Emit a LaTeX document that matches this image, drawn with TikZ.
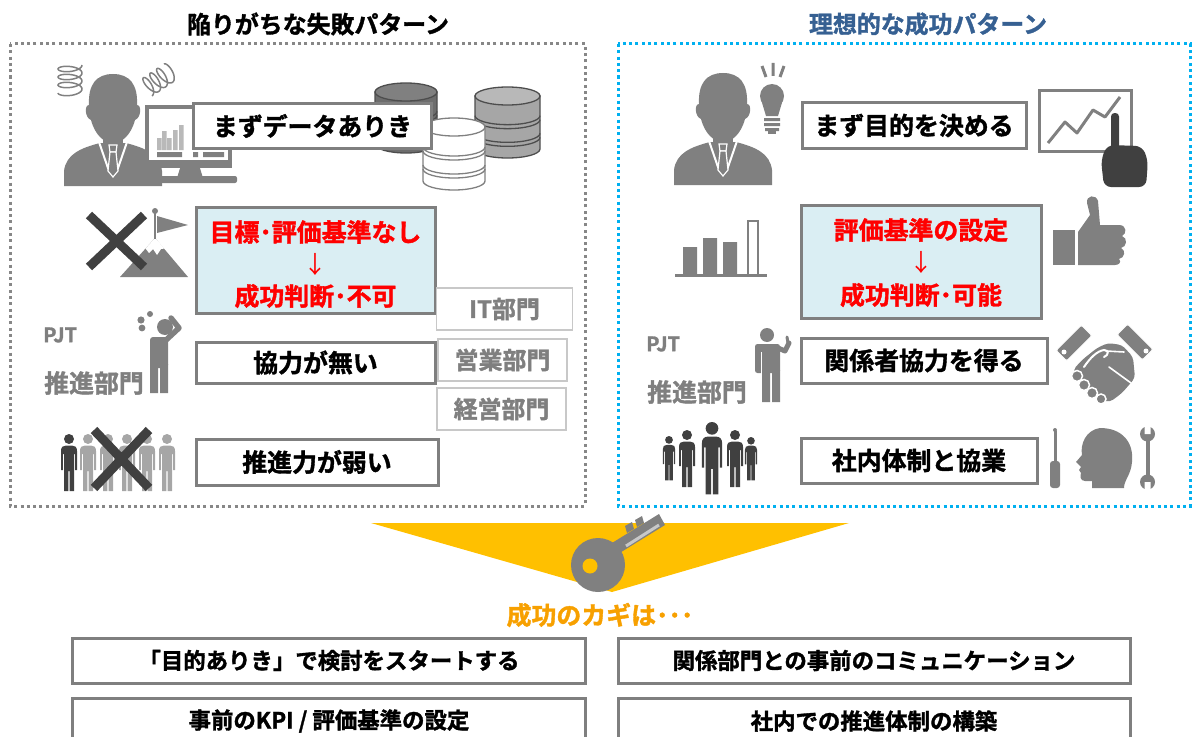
\documentclass[tikz,border=0pt]{standalone}
\usepackage{fontspec}
\setmainfont{Noto Sans CJK JP}[BoldFont={Noto Sans CJK JP Bold}, BoldFeatures={FakeBold=1.5}]
\usetikzlibrary{calc}

\definecolor{icongray}{RGB}{128,128,128}
\definecolor{handdark}{RGB}{64,64,64}
\definecolor{crowdlight}{RGB}{166,166,166}
\definecolor{boxline}{RGB}{127,127,127}
\definecolor{frameline}{RGB}{135,135,135}
\definecolor{deptline}{RGB}{200,200,200}
\definecolor{bluefill}{RGB}{218,238,243}
\definecolor{skyblue}{RGB}{0,176,240}
\definecolor{titleblue}{RGB}{54,96,146}
\definecolor{keyyellow}{RGB}{255,192,0}
\definecolor{keyorange}{RGB}{247,160,0}
\definecolor{barlight}{RGB}{185,185,185}
\definecolor{keylight}{RGB}{200,200,200}

% office worker bust, origin at the top centre of the head
\newcommand\bustfig[2]{%
\begin{scope}[shift={(#1,#2)}]
  \fill[icongray] (-10,56) rectangle (10,72);
  \fill[icongray] (0,0) .. controls (17,0) and (25,11) .. (24,31)
    .. controls (29,31) and (28,44) .. (22,46)
    .. controls (18,61) and (9,69) .. (0,69)
    .. controls (-9,69) and (-18,61) .. (-22,46)
    .. controls (-28,44) and (-29,31) .. (-24,31)
    .. controls (-25,11) and (-17,0) .. (0,0) -- cycle;
  \fill[icongray] (-49,112) -- (-49,97) .. controls (-47,80) and (-32,74) .. (-13,69)
    -- (13,69) .. controls (32,74) and (47,80) .. (49,97) -- (49,112) -- cycle;
  \draw[white, line width=2bp] (-14,68) -- (-4,97) (14,68) -- (4,97);
  \filldraw[fill=icongray, draw=white, line width=1.2bp] (-4,71) -- (4,71) -- (3,78) -- (-3,78) -- cycle;
  \filldraw[fill=icongray, draw=white, line width=1.2bp] (-3,78) -- (3,78) -- (5,97) -- (0,103) -- (-5,97) -- cycle;
\end{scope}}

% standing person, origin at the top of the head, 57 units tall
\newcommand\manfig[4]{%
\begin{scope}[shift={(#1,#2)}, scale=#3]
  \fill[#4] (0,5) circle[radius=5];
  \fill[#4] (-8,36) -- (-8,17) .. controls (-8,13) and (-6,11.5) .. (-3,11.5) -- (3,11.5)
    .. controls (6,11.5) and (8,13) .. (8,17) -- (8,36) -- (6.2,36) -- (6.2,20) -- (5,20)
    -- (5,57) -- (0.6,57) -- (0.6,37) -- (-0.6,37) -- (-0.6,57) -- (-5,57) -- (-5,20)
    -- (-6.2,20) -- (-6.2,36) -- cycle;
\end{scope}}

% database cylinder: left, right, top, bottom, body fill, lid fill, line colour
\newcommand\dbcyl[7]{%
  \pgfmathsetmacro\cxa{(#1+#2)/2}\pgfmathsetmacro\rxa{(#2-#1)/2}%
  \pgfmathsetmacro\tca{#3+9}\pgfmathsetmacro\bca{#4-9}%
  \pgfmathsetmacro\sa{\tca+(\bca-\tca)/3+2}\pgfmathsetmacro\sb{\tca+2*(\bca-\tca)/3+2}%
  \filldraw[fill=#5, draw=#7, line width=1.3bp] (#1,\tca) -- (#1,\bca)
    arc[start angle=180, end angle=0, x radius=\rxa, y radius=9] -- (#2,\tca) -- cycle;
  \filldraw[fill=#6, draw=#7, line width=1.3bp] (\cxa,\tca) ellipse[x radius=\rxa, y radius=9];
  \foreach \yy in {\sa,\sb}{%
    \draw[#7, line width=1.3bp] (#1,\yy) arc[start angle=180, end angle=0, x radius=\rxa, y radius=9];
    \draw[#7, line width=1.3bp] (#1,{\yy+4}) arc[start angle=180, end angle=0, x radius=\rxa, y radius=9];}
}

\tikzset{
  jpbox/.style={draw=boxline, line width=3bp, fill=white, inner sep=0pt,
    font=\bfseries\fontsize{25}{30}\selectfont},
  goalbox/.style={jpbox, fill=bluefill},
  redtxt/.style={text=red, inner sep=0pt, font=\bfseries\fontsize{25}{30}\selectfont},
  redarrow/.style={text=red, inner sep=0pt, font=\fontsize{24}{28}\selectfont},
  deptbox/.style={draw=deptline, line width=1.8bp, fill=white, text=boxline, inner sep=0pt,
    font=\bfseries\fontsize{24}{28}\selectfont},
  keybox/.style={jpbox, font=\bfseries\fontsize{22.5}{26}\selectfont},
  graylabel/.style={text=boxline, inner sep=0pt, font=\bfseries\fontsize{25}{30}\selectfont},
  pjtlabel/.style={text=boxline, inner sep=0pt, anchor=west, font=\bfseries\fontsize{20}{24}\selectfont},
  titletxt/.style={inner sep=0pt, font=\bfseries\fontsize{24}{28}\selectfont},
  frameL/.style={draw=frameline, line width=3bp, dash pattern=on 3bp off 3.3bp},
  frameR/.style={draw=skyblue, line width=3bp, dash pattern=on 3bp off 3.3bp},
  crossline/.style={draw=handdark, line width=9bp},
  cuff/.style={fill=icongray, draw=white, line width=1bp, rounded corners=2},
}

\begin{document}
\begin{tikzpicture}[x=1bp, y=-1bp]
\useasboundingbox (0,0) rectangle (1193,737);
\clip (0,0) rectangle (1193,737);

% ---------- headings and frames ----------
\node[titletxt] (ttlL) at (318,24) {陥りがちな失敗パターン};
\node[titletxt, text=titleblue] (ttlR) at (928,24) {理想的な成功パターン};
\draw[frameL] (10,44) rectangle (585,506);
\draw[frameR] (618,44) rectangle (1190,506);

% ---------- left: data first ----------
\bustfig{113}{74}
\draw[icongray, line width=1.5bp] plot[domain=0:1260, samples=140, smooth]
  ({70+12*cos(\x)}, {65+\x/1260*28+4.5*sin(\x)});
\draw[icongray, line width=1.5bp] plot[domain=0:1260, samples=140, smooth]
  ({146+\x/1260*24+10*cos(\x)*0.604+4.5*sin(\x)*0.797},
   {88-\x/1260*16+10*cos(\x)*0.797-4.5*sin(\x)*0.604});
% monitor
\fill[icongray] (181,165) -- (199,165) -- (203,178) -- (177,178) -- cycle;
\fill[icongray, rounded corners=2] (160,176) rectangle (237,183);
\fill[icongray] (145,105) rectangle (232,168);
\fill[white] (149,109) rectangle (228,160);
\fill[barlight] (157,138) rectangle (161.5,150) (162,131) rectangle (166.5,150)
  (167,138) rectangle (171.5,150) (173,130) rectangle (177.5,150) (179,125) rectangle (183.5,150);
\fill[icongray] (157,152) rectangle (182,157) (193,152) rectangle (198,157) (203,152) rectangle (224,157);
% databases
\dbcyl{375}{437}{83}{153}{icongray!85!black}{icongray}{icongray!60!black}
\dbcyl{475}{540}{87}{158}{crowdlight}{crowdlight!80!white}{icongray!60!black}
\dbcyl{423}{485}{118}{190}{white}{white}{icongray}
\node[jpbox, minimum width=238bp, minimum height=44bp] (dataL) at (312.5,126) {まずデータありき};

% ---------- left: no goals ----------
\fill[icongray] (120,277) -- (155,238) -- (188,277) -- cycle;
\fill[white] (155,238) -- (145.5,248.5) -- (149,253) -- (153,249) -- (157,255) -- (161,249) -- (164.5,248.5) -- cycle;
\draw[icongray, line width=2bp] (155,239) -- (155,212);
\fill[icongray] (155,211) circle[radius=3];
\fill[icongray] (157,216) -- (188,225) -- (157,233) -- cycle;
\draw[crossline] (89,215) -- (144,267) (144,215) -- (89,267);
\node[goalbox, minimum width=239bp, minimum height=106bp] (goalL) at (315.5,260) {};
\node[redtxt] (goalLa) at (315.5,232) {目標･評価基準なし};
\node[redarrow] (goalLb) at (315.5,264) {↓};
\node[redtxt] (goalLc) at (315.5,296) {成功判断･不可};

% ---------- left: no cooperation ----------
\node[pjtlabel] (pjtL) at (43,335) {PJT};
\node[graylabel] (deptL) at (94,383) {推進部門};
\fill[icongray] (165,327) circle[radius=8];
\fill[icongray, rounded corners=3] (150,337) rectangle (168,368);
\fill[icongray] (150,364) rectangle (158,393) (160,364) rectangle (168,393);
\draw[icongray, line width=5.5bp, line cap=round, line join=round] (165,341) -- (179,328) -- (171,318);
\fill[icongray] (141,320) circle[radius=3.6] (150,314) circle[radius=3] (142,328) circle[radius=3.4];
\node[jpbox, minimum width=239bp, minimum height=41bp] (coopL) at (315.5,362.5) {協力が無い};
\node[deptbox, minimum width=136bp, minimum height=42bp] (itD) at (504.5,309) {IT部門};
\node[deptbox, minimum width=129bp, minimum height=42bp] (salesD) at (502.5,360) {営業部門};
\node[deptbox, minimum width=129bp, minimum height=42bp] (mgmtD) at (501.5,409) {経営部門};

% ---------- left: weak drive ----------
\manfig{69}{434}{1}{handdark}
\manfig{88}{434}{1}{crowdlight}
\manfig{108}{434}{1}{crowdlight}
\manfig{127}{434}{1}{crowdlight}
\manfig{147}{434}{1}{crowdlight}
\manfig{167}{434}{1}{crowdlight}
\draw[crossline] (94,430) -- (149,488) (149,430) -- (94,488);
\node[jpbox, minimum width=242bp, minimum height=46bp] (driveL) at (317,462) {推進力が弱い};

% ---------- right: purpose first ----------
\bustfig{723}{73}
\fill[icongray] (772,96) circle[radius=12];
\fill[icongray] (761.5,101) -- (766,116) -- (778,116) -- (782.5,101) -- cycle;
\fill[icongray] (764,118) rectangle (780,121) (764,123) rectangle (780,126) (765,128) rectangle (779,131);
\fill[icongray] (768,131) rectangle (776,134);
\draw[icongray, line width=3bp] (762,66) -- (766,77) (773,63) -- (773,76) (784,66) -- (780,77);
\node[jpbox, minimum width=224bp, minimum height=45bp] (purposeR) at (914,125.5) {まず目的を決める};
\draw[icongray, line width=3bp, fill=white] (1039,91) rectangle (1131,151);
\draw[icongray, line width=3bp, line join=round] (1048,143) -- (1065,122) -- (1077,133) -- (1093,110) -- (1105,117) -- (1120,97);
\fill[handdark, rounded corners=3.5] (1111,113) rectangle (1119,152);
\fill[handdark, rounded corners=7] (1104,187) -- (1101,160) -- (1107,145) -- (1142,146) -- (1148,160) -- (1146,187) -- cycle;

% ---------- right: criteria ----------
\draw[icongray, line width=3bp] (675,275) -- (767,275);
\fill[icongray] (683,247) rectangle (697,275) (703,238) rectangle (717,275) (723,242) rectangle (737,275);
\draw[icongray, line width=2.5bp] (748,221) rectangle (758,275);
\node[goalbox, minimum width=240bp, minimum height=113bp] (goalR) at (921,261.5) {};
\node[redtxt] (goalRa) at (921,230) {評価基準の設定};
\node[redarrow] (goalRb) at (921,262) {↓};
\node[redtxt] (goalRc) at (921,295) {成功判断･可能};
\fill[icongray] (1053,230) rectangle (1075,265);
\fill[icongray] (1078,265) -- (1078,232) -- (1090,215) -- (1087,203)
  .. controls (1086,195) and (1096,194) .. (1098,201) -- (1100,225) -- (1119,225)
  .. controls (1127,225) and (1127,234) .. (1122,236)
  .. controls (1128,238) and (1127,247) .. (1121,248)
  .. controls (1126,250) and (1125,258) .. (1119,259)
  .. controls (1122,262) and (1119,265) .. (1115,265) -- cycle;

% ---------- right: cooperation ----------
\node[pjtlabel] (pjtR) at (646,344) {PJT};
\node[graylabel] (deptR) at (697,392) {推進部門};
\fill[icongray] (767,335) circle[radius=7];
\fill[icongray, rounded corners=2.5] (755,344) rectangle (780,373);
\fill[white] (760.5,352) rectangle (761.8,376);
\fill[icongray] (762,370) rectangle (770,402) (772,370) rectangle (780,402);
\draw[icongray, line width=5bp, line cap=round, line join=round] (778,348) -- (785,351) -- (789,343);
\draw[icongray, line width=3bp, line cap=round] (788,343) -- (787,337);
\node[jpbox, minimum width=246bp, minimum height=45bp] (coopR) at (924,360.5) {関係者協力を得る};
% handshake: clasped hands, fingers, then the two cuffs
\fill[icongray, rounded corners=4] (1073,370) -- (1082,360) -- (1097,348) -- (1108,343) -- (1122,345)
  -- (1133,357) -- (1135,378) -- (1122,393) -- (1110,402) -- (1100,400) -- (1077,378) -- cycle;
\filldraw[fill=icongray, draw=white, line width=1.5bp]
  (1077,376) circle[radius=5.5] (1084,385) circle[radius=5.5] (1092,393) circle[radius=5.5] (1101,399) circle[radius=5];
\draw[white, line width=2bp, line cap=round] (1084,367) .. controls (1090,358) and (1097,351) .. (1104,350)
  .. controls (1109,350) and (1109,355) .. (1104,357);
\draw[white, line width=1.6bp, line cap=round] (1106,351) -- (1124,352) (1109,367) -- (1131,383);
\filldraw[cuff] (1092,335.6) -- (1081.4,325) -- (1056,350.4) -- (1066.6,361) -- cycle;
\filldraw[cuff] (1153,349.4) -- (1142.4,360) -- (1117,334.6) -- (1127.6,324) -- cycle;
\fill[white] (1064,352) circle[radius=2.5] (1146,351) circle[radius=2.5];

% ---------- right: team ----------
\manfig{669}{436}{0.78}{handdark}
\manfig{751}{437}{0.76}{handdark}
\manfig{687}{430}{1}{handdark}
\manfig{735}{430}{1}{handdark}
\manfig{712}{422}{1.27}{handdark}
\node[jpbox, minimum width=236bp, minimum height=45bp] (teamR) at (919,460.5) {社内体制と協業};
% screwdriver, head, wrench
\draw[icongray, line width=3bp] (1055,431) -- (1055,465);
\fill[icongray] (1055,430) circle[radius=2];
\fill[icongray, rounded corners=3] (1050,461) rectangle (1060,488);
\fill[icongray] (1100,428) .. controls (1122,428) and (1134,442) .. (1132,462)
  .. controls (1131,475) and (1124,480) .. (1124,488) -- (1092,488) -- (1092,481) -- (1085,481)
  .. controls (1080,481) and (1080,476) .. (1081,473) -- (1079,470) -- (1081,467) -- (1076,462)
  -- (1082,455) .. controls (1080,444) and (1086,430) .. (1100,428) -- cycle;
\draw[icongray, line width=4bp] (1147.5,436) -- (1147.5,480);
\fill[icongray] (1147.5,434) circle[radius=7.5] (1147.5,482) circle[radius=7.5];
\fill[white] (1144.5,424) rectangle (1150.5,434) (1144.5,482) rectangle (1150.5,492);

% ---------- key ----------
\fill[keyyellow] (371,523) -- (849,523) -- (612,592) -- cycle;
\fill[icongray] (612,543) -- (659,514) -- (665,525) -- (618,554) -- cycle;
\fill[icongray] (627,533) -- (625,526) -- (632,522) -- (634,529) -- cycle;
\fill[icongray] (637,527) -- (635,520) -- (642,516) -- (644,523) -- cycle;
\draw[keylight, line width=3bp] (626,546) -- (659,525);
\fill[icongray] (598,565) circle[radius=27];
\fill[keyyellow] (590,566) circle[radius=7.5];
\node[inner sep=0pt, text=keyorange, font=\bfseries\fontsize{25}{30}\selectfont] (keyT) at (600,615) {成功のカギは･･･};

% ---------- key points ----------
\node[keybox, minimum width=512bp, minimum height=45bp] (kA) at (329,660.5) {「目的ありき」で検討をスタートする};
\node[keybox, minimum width=512bp, minimum height=45bp] (kB) at (874,660.5) {関係部門との事前のコミュニケーション};
\node[keybox, minimum width=512bp, minimum height=46bp] (kC) at (329,721) {事前のKPI / 評価基準の設定};
\node[keybox, minimum width=512bp, minimum height=46bp] (kD) at (874,721) {社内での推進体制の構築};
\end{tikzpicture}
\end{document}
